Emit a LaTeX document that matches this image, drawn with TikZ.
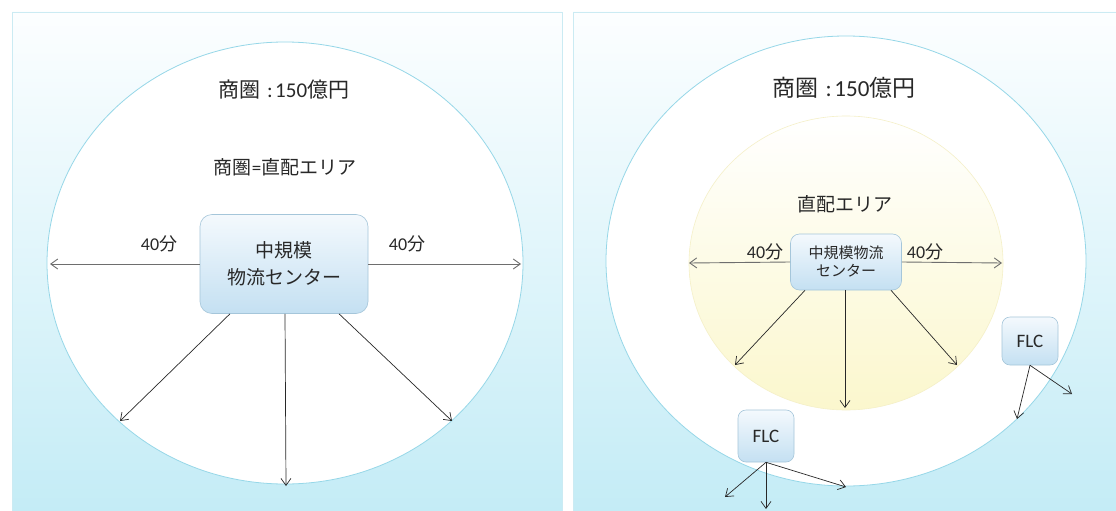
\documentclass[tikz,border=0pt]{standalone}
\usepackage{fontspec}
\setmainfont{Carlito}
\newfontfamily\jp{Noto Sans CJK JP}
\usetikzlibrary{arrows.meta}
\definecolor{panelTop}{RGB}{252,254,255}
\definecolor{panelBot}{RGB}{196,236,246}
\definecolor{ringC}{RGB}{150,215,232}
\definecolor{yelBot}{RGB}{251,247,205}
\definecolor{yelLine}{RGB}{245,240,200}
\definecolor{boxTop}{RGB}{244,249,253}
\definecolor{boxBot}{RGB}{196,224,242}
\definecolor{boxLine}{RGB}{165,198,218}
\definecolor{ink}{RGB}{40,40,40}
\definecolor{hline}{RGB}{110,110,110}
\begin{document}
\begin{tikzpicture}[x=1pt,y=-1pt,
  panel/.style={draw=ringC!50, line width=0.5pt, top color=panelTop, bottom color=panelBot},
  ring/.style={draw=ringC, line width=0.8pt, fill=white},
  inner/.style={draw=yelLine, line width=0.6pt, top color=white, bottom color=yelBot},
  lbl/.style={text=ink, inner sep=0pt},
  centerbox/.style={rounded corners=12pt, draw=boxLine, line width=0.6pt, top color=boxTop, bottom color=boxBot, align=center, text=ink, inner sep=0pt},
  flcbox/.style={centerbox, rounded corners=8pt, minimum width=56pt, font=\fontsize{19}{22}\selectfont},
  arr/.style={-{Straight Barb[length=7pt,width=10pt]}, draw=ink, line width=0.7pt},
  harr/.style={arr, draw=hline, line width=0.9pt}
]
\useasboundingbox (0,0) rectangle (1116,511);
\fill[white] (0,0) rectangle (1116,511);

% ---------- left panel ----------
\path[panel] (12,12) rectangle (562,511);
\path[ring] (285,263) ellipse [x radius=238pt, y radius=221pt];
\node[lbl, font=\fontsize{21}{24}\selectfont] (t1) at (284,90) {{\jp 商圏}\hspace{0.3em}:\hspace{0.12em}150{\jp 億円}};
\node[lbl, font=\fontsize{19}{22}\selectfont] (t2) at (285,167) {{\jp 商圏}={\jp 直配エリア}};
\node[centerbox, minimum width=168pt, minimum height=99pt, font=\jp\fontsize{19}{27}\selectfont] (c1) at (284,264) {中規模\\物流センター};
\node[lbl, font=\fontsize{18}{22}\selectfont] (m1) at (159,244) {40{\jp 分}};
\node[lbl, font=\fontsize{18}{22}\selectfont] (m2) at (407,244) {40{\jp 分}};
\coordinate (h1) at (50,264);
\coordinate (h2) at (521,264);
\coordinate (d1) at (120,421);
\coordinate (d2) at (286,486);
\coordinate (d3) at (452,421);
\draw[harr] (c1.west) -- (h1);
\draw[harr] (c1.east) -- (h2);
\draw[arr] ([xshift=-54pt]c1.south) -- (d1);
\draw[arr] ([xshift=1pt]c1.south) -- (d2);
\draw[arr] ([xshift=55pt]c1.south) -- (d3);

% ---------- right panel ----------
\path[panel] (573,12) rectangle (1116,511);
\path[ring] (846,261) ellipse [x radius=240pt, y radius=225pt];
\path[inner] (846,263) ellipse [x radius=157pt, y radius=147pt];
\node[lbl, font=\fontsize{23}{26}\selectfont] (t3) at (844,88) {{\jp 商圏}\hspace{0.3em}:\hspace{0.12em}150{\jp 億円}};
\node[lbl, font=\jp\fontsize{19}{22}\selectfont] (t4) at (845,204) {直配エリア};
\node[centerbox, rounded corners=9pt, minimum width=111pt, minimum height=56pt, font=\jp\fontsize{15}{18}\selectfont] (c2) at (846,262) {中規模物流\\センター};
\node[lbl, font=\fontsize{18}{22}\selectfont] (m3) at (765,252) {40{\jp 分}};
\node[lbl, font=\fontsize{18}{22}\selectfont] (m4) at (925,252) {40{\jp 分}};
\coordinate (h3) at (689,263);
\coordinate (h4) at (1002,263);
\coordinate (e1) at (735,365);
\coordinate (e2) at (845,408);
\coordinate (e3) at (957,365);
\draw[harr] (c2.west) -- (h3);
\draw[harr] (c2.east) -- (h4);
\draw[arr] ([xshift=-41pt]c2.south) -- (e1);
\draw[arr] ([xshift=-1pt]c2.south) -- (e2);
\draw[arr] ([xshift=45pt]c2.south) -- (e3);

\node[flcbox, minimum height=48pt] (f1) at (1030,341) {FLC};
\coordinate (g1) at (1017,419);
\coordinate (g2) at (1072,394);
\draw[arr] (f1.south) -- (g1);
\draw[arr] (f1.south) -- (g2);

\node[flcbox, minimum height=52pt] (f2) at (766,436) {FLC};
\coordinate (k1) at (725,497);
\coordinate (k2) at (766,509);
\coordinate (k3) at (846,487);
\draw[arr] (f2.south) -- (k1);
\draw[arr] (f2.south) -- (k2);
\draw[arr] (f2.south) -- (k3);
\end{tikzpicture}
\end{document}
